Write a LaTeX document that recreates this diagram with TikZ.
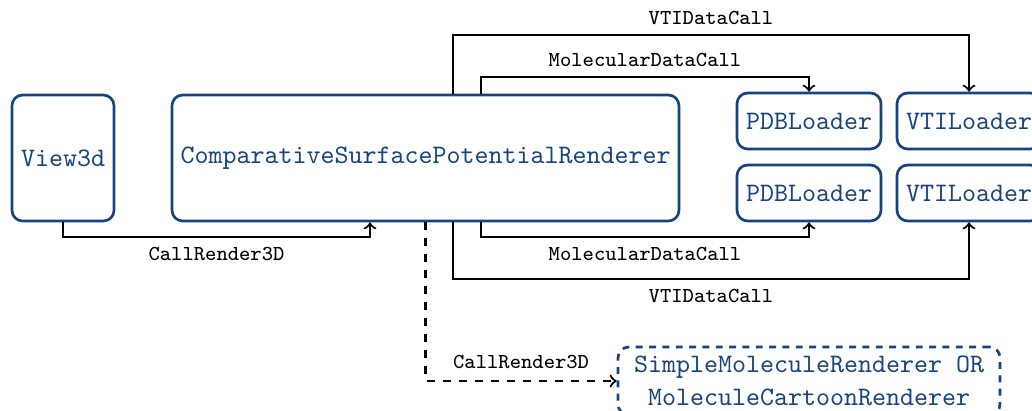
\documentclass[tikz,border=0pt]{standalone}
\usepackage{fontspec}
\usetikzlibrary{calc}
\definecolor{modblue}{RGB}{22,68,128}
\begin{document}
\begin{tikzpicture}[x=0.375pt, y=-0.375pt,
  module/.style={draw=modblue, text=modblue, line width=1pt, rounded corners=4pt,
    inner sep=0pt, font=\ttfamily, align=center},
  loader/.style={module, minimum width=54pt, minimum height=21pt},
  optmodule/.style={module, dash pattern=on 2.6pt off 2.4pt, minimum width=143.25pt,
    minimum height=25.5pt},
  call/.style={draw=black, line width=0.8pt, ->},
  optcall/.style={call, dashed},
  lbl/.style={font=\footnotesize\ttfamily, text=black}]
  \clip (0,0) rectangle (1032,410);

  % modules
  \node[module, minimum width=38.25pt, minimum height=47.25pt] (view) at (63,158) {View3d};
  \node[module, minimum width=190.1pt, minimum height=47.25pt] (cspr) at (425.5,158)
    {ComparativeSurfacePotentialRenderer};
  \node[loader] (pdbA) at (809,121) {PDBLoader};
  \node[loader] (pdbB) at (809,193) {PDBLoader};
  \node[loader] (vtiA) at (969,121) {VTILoader};
  \node[loader] (vtiB) at (969,193) {VTILoader};
  \node[optmodule] (mol) at (809,381)
    {SimpleMoleculeRenderer OR\\[0.6pt]MoleculeCartoonRenderer};

  % render call from the view
  \draw[call] (view.south) -- ++(0,15)
    -| node[lbl, below, pos=0.25] {CallRender3D} ($(cspr.south)+(-55.5,0)$);

  % data calls, upper pair
  \draw[call] ($(cspr.north)+(27.5,0)$) -- ++(0,-59)
    -| node[lbl, above, pos=0.25] {VTIDataCall} (vtiA.north);
  \draw[call] ($(cspr.north)+(55.5,0)$) -- ++(0,-17)
    -| node[lbl, above, pos=0.25] {MolecularDataCall} (pdbA.north);

  % data calls, lower pair
  \draw[call] ($(cspr.south)+(55.5,0)$) -- ++(0,15)
    -| node[lbl, below, pos=0.25] {MolecularDataCall} (pdbB.south);
  \draw[call] ($(cspr.south)+(27.5,0)$) -- ++(0,57)
    -| node[lbl, below, pos=0.25] {VTIDataCall} (vtiB.south);

  % optional molecule renderer
  \draw[optcall] (cspr.south) |- node[lbl, above, pos=0.75, yshift=1pt] {CallRender3D} (mol.west);
\end{tikzpicture}
\end{document}
